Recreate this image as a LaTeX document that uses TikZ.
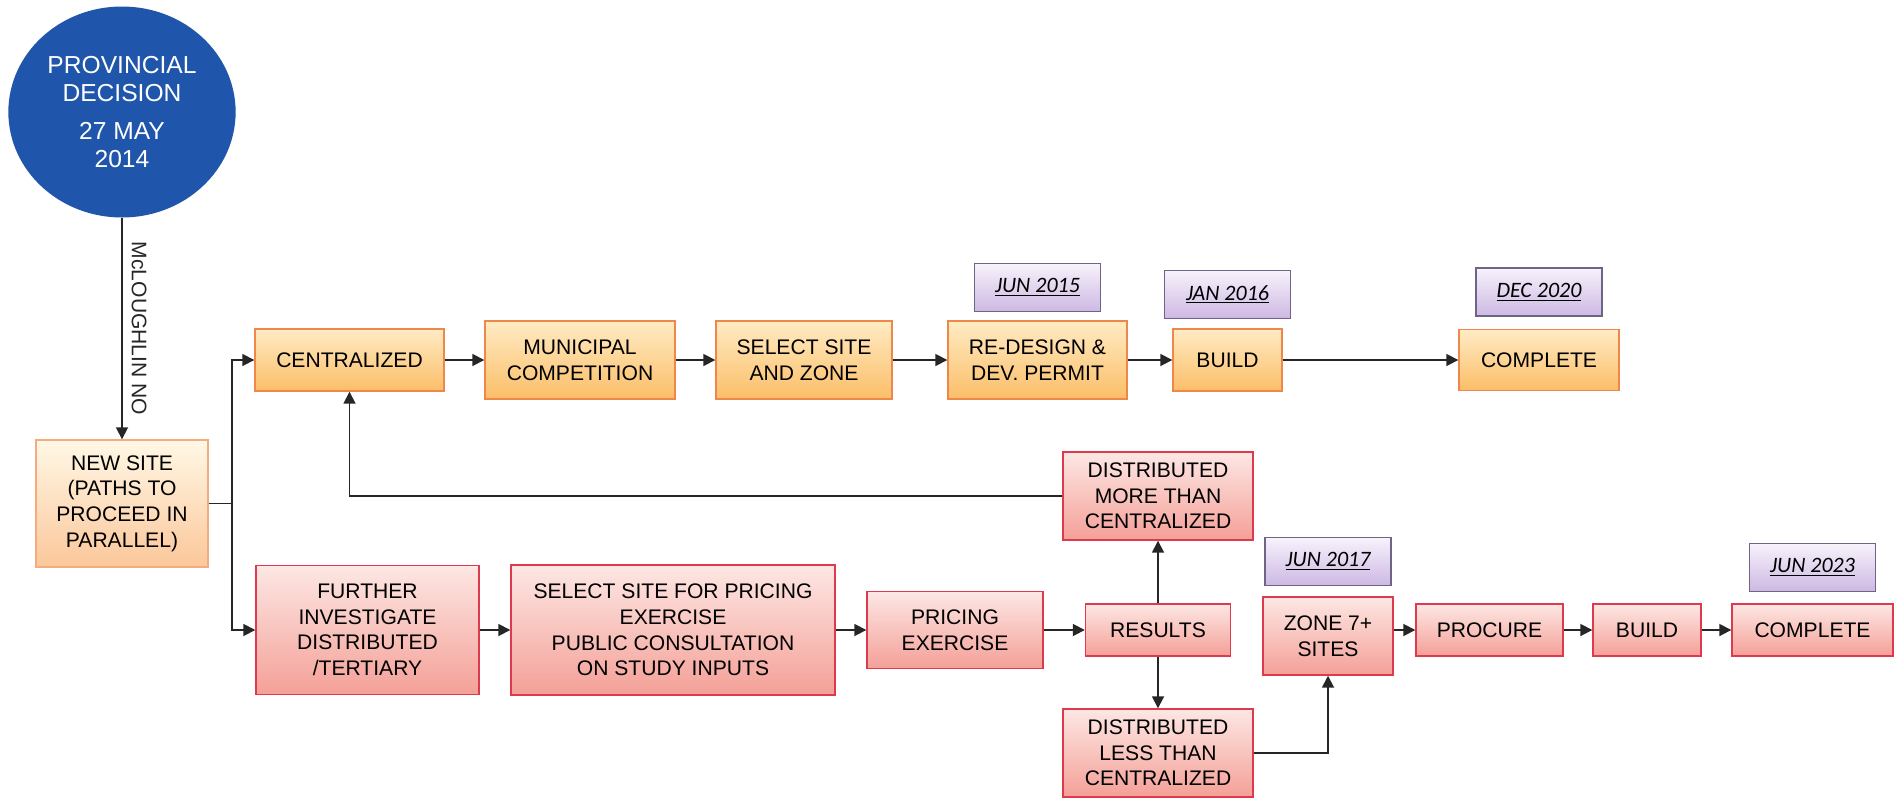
\documentclass[tikz,border=0pt]{standalone}
\usepackage{fontspec}
\setmainfont{Liberation Sans}
\newfontfamily\datefont{Carlito}
\usetikzlibrary{arrows.meta,positioning,shapes.geometric,calc}

\definecolor{orgtop}{HTML}{FFEBC4}
\definecolor{orgbot}{HTML}{FBBE68}
\definecolor{orgline}{HTML}{F0874A}
\definecolor{redtop}{HTML}{FDE7E4}
\definecolor{redbot}{HTML}{F4A097}
\definecolor{redline}{HTML}{DE3A4E}
\definecolor{newtop}{HTML}{FFF8E6}
\definecolor{newbot}{HTML}{FBC79A}
\definecolor{dattop}{HTML}{F7F2FB}
\definecolor{datbot}{HTML}{CDB8E3}
\definecolor{datline}{HTML}{6E6486}
\definecolor{provblue}{HTML}{1F55AA}

\newcommand{\datelabel}[1]{{\datefont\itshape\underline{#1}}}

\begin{document}
\begin{tikzpicture}[
  x=0.2mm, y=-0.2mm,
  font=\fontsize{12}{14.6}\selectfont,
  >={Triangle[length=2.4mm, width=2.4mm]},
  box/.style={draw, line width=0.8pt, align=center, inner sep=2pt},
  orgbox/.style ={box, draw=orgline, top color=orgtop, bottom color=orgbot},
  redbox/.style ={box, draw=redline, top color=redtop, bottom color=redbot},
  newbox/.style ={box, draw=orgline!70, top color=newtop, bottom color=newbot},
  datebox/.style={box, draw=datline, top color=dattop, bottom color=datbot,
                  minimum width=25.2mm, minimum height=9.6mm,
                  font=\fontsize{12.5}{15}\selectfont},
  flow/.style={->, line width=1pt, black!85},
]
\useasboundingbox (0,0) rectangle (1902,799);

% ---------- Decision ----------
\node[ellipse, fill=provblue, text=white, minimum width=44.4mm, minimum height=42.2mm,
      align=center, font=\fontsize{14}{16}\selectfont] (prov) at (122,112)
  {PROVINCIAL\\DECISION\\[6pt]27 MAY\\2014};

\node[newbox, minimum width=34.4mm, minimum height=25.4mm] (newsite) at (122,503.5)
  {NEW SITE\\(PATHS TO\\PROCEED IN\\PARALLEL)};

\draw[flow] (prov) -- (newsite)
  node[midway, rotate=-90, anchor=south, inner sep=1pt, outer sep=1.6mm]
  {McLOUGHLIN NO};

% ---------- Centralized path ----------
\node[orgbox, minimum width=37.8mm, minimum height=12.4mm] (cent)   at (349.5,360) {CENTRALIZED};
\node[orgbox, minimum width=38mm,   minimum height=15.6mm] (muni)   at (580,360)   {MUNICIPAL\\COMPETITION};
\node[orgbox, minimum width=35.2mm, minimum height=15.6mm] (selz)   at (804,360)   {SELECT SITE\\AND ZONE};
\node[orgbox, minimum width=35.8mm, minimum height=15.6mm] (redes)  at (1037.5,360) {RE-DESIGN \&\\DEV. PERMIT};
\node[orgbox, minimum width=21.8mm, minimum height=12.4mm] (build1) at (1227.5,360) {BUILD};
\node[orgbox, minimum width=32mm,   minimum height=12.2mm] (comp1)  at (1539,360)  {COMPLETE};

\node[datebox, above=1.6mm of redes]  (d2015) {\datelabel{JUN 2015}};
\node[datebox, above=1.8mm of build1] (d2016) {\datelabel{JAN 2016}};
\node[datebox, above=2.4mm of comp1]  (d2020) {\datelabel{DEC 2020}};

\draw[flow] (cent)   -- (muni);
\draw[flow] (muni)   -- (selz);
\draw[flow] (selz)   -- (redes);
\draw[flow] (redes)  -- (build1);
\draw[flow] (build1) -- (comp1);

% ---------- Distributed path ----------
\node[redbox, minimum width=44.6mm, minimum height=25.8mm] (further) at (367.5,630)
  {FURTHER\\INVESTIGATE\\DISTRIBUTED\\/TERTIARY};
\node[redbox, minimum width=64.8mm, minimum height=26mm] (selp) at (673,630)
  {SELECT SITE FOR PRICING\\EXERCISE\\PUBLIC CONSULTATION\\ON STUDY INPUTS};
\node[redbox, minimum width=35.2mm, minimum height=15.4mm] (pricing) at (955,630) {PRICING\\EXERCISE};
\node[redbox, minimum width=29mm,   minimum height=10.4mm] (results) at (1158,630) {RESULTS};
\node[redbox, minimum width=38mm,   minimum height=17.6mm] (dmore)   at (1158,496)
  {DISTRIBUTED\\MORE THAN\\CENTRALIZED};
\node[redbox, minimum width=38mm,   minimum height=17.6mm] (dless)   at (1158,753)
  {DISTRIBUTED\\LESS THAN\\CENTRALIZED};
\node[redbox, minimum width=26mm,   minimum height=15.6mm] (zone)    at (1328,636) {ZONE 7+\\SITES};
\node[redbox, minimum width=29.4mm, minimum height=10.4mm] (procure) at (1489.5,630) {PROCURE};
\node[redbox, minimum width=21.6mm, minimum height=10.4mm] (build2)  at (1647,630)  {BUILD};
\node[redbox, minimum width=32.2mm, minimum height=10.4mm] (comp2)   at (1812.5,630) {COMPLETE};

\node[datebox, above=2mm of zone]  (d2017) {\datelabel{JUN 2017}};
\node[datebox, above=2.2mm of comp2] (d2023) {\datelabel{JUN 2023}};

% split of the two parallel paths
\coordinate (split) at (232,503.5);
\draw[line width=1pt, black!85] (newsite.east) -- (split);
\draw[flow] (split) |- (cent.west);
\draw[flow] (split) |- (further.west);

\draw[flow] (further) -- (selp);
\draw[flow] (selp)    -- (pricing);
\draw[flow] (pricing) -- (results);
\draw[flow] (results) -- (dmore);
\draw[flow] (results) -- (dless);
\draw[flow] (dmore.west) -| (cent.south);
\draw[flow] (dless.east) -| (zone.south);
\draw[flow] (zone.east |- procure) -- (procure);
\draw[flow] (procure) -- (build2);
\draw[flow] (build2)  -- (comp2);

\end{tikzpicture}
\end{document}
